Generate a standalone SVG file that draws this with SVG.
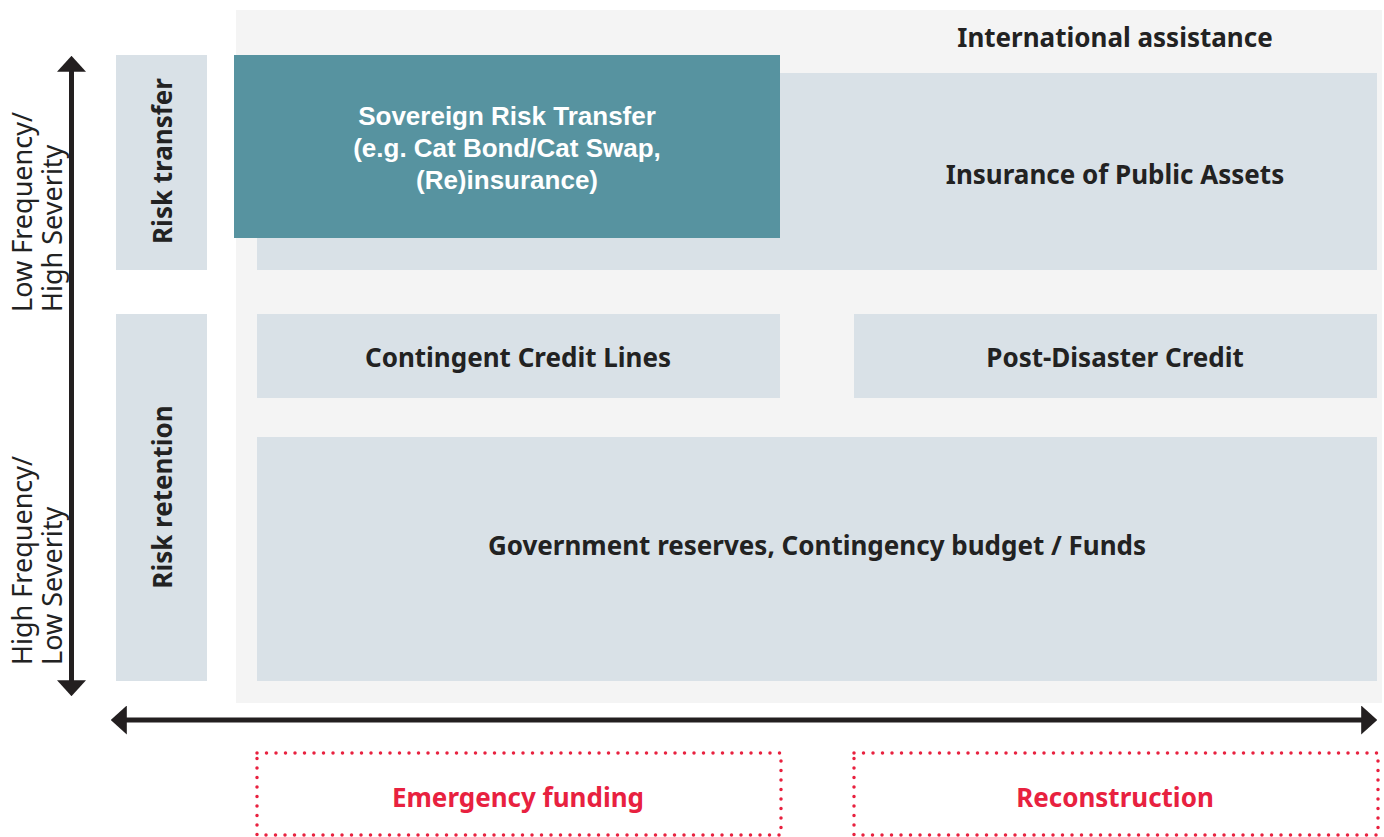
<svg xmlns="http://www.w3.org/2000/svg" width="1384" height="837" viewBox="0 0 1384 837">
<style>
.box{fill:#d9e1e7}
.t{font-family:"Noto Sans","Liberation Sans",sans-serif;font-weight:700;font-size:26px;fill:#222;text-anchor:middle;dominant-baseline:central}
.w{fill:#fff;font-family:"Liberation Sans",Arial,sans-serif;font-size:26px}
.r{fill:#e8213f}
.ax{font-family:"Noto Sans","Liberation Sans",sans-serif;font-weight:400;font-size:27px;fill:#222;text-anchor:start}
.dot{fill:none;stroke:#e8213f;stroke-width:3.5;stroke-dasharray:0 9.5;stroke-linecap:round}
.axis{stroke:#231f20;stroke-width:5}
</style>
<defs>
<marker id="ah" viewBox="0 0 10 10" refX="0.5" refY="5" markerWidth="3.2" markerHeight="5.8" orient="auto-start-reverse" markerUnits="strokeWidth" preserveAspectRatio="none">
<path d="M0,0 L10,5 L0,10 z" fill="#231f20"/>
</marker>
</defs>
<rect width="1384" height="837" fill="#fff"/>
<g id="bg">
<rect x="236" y="10" width="1146" height="693" fill="#f4f4f4"/>
<text class="t" x="1115" y="37">International assistance</text>
</g>
<g id="insurance">
<rect class="box" x="257" y="73" width="1120" height="197"/>
<text class="t" x="1115" y="174">Insurance of Public Assets</text>
</g>
<g id="sovereign">
<rect x="234" y="55" width="546" height="183" fill="#5793a0"/>
<text class="t w" x="507" y="116">Sovereign Risk Transfer</text>
<text class="t w" x="507" y="148">(e.g. Cat Bond/Cat Swap,</text>
<text class="t w" x="507" y="180">(Re)insurance)</text>
</g>
<g id="risk-transfer">
<rect class="box" x="116" y="55" width="91" height="215"/>
<text class="t" transform="translate(162,161) rotate(-90)">Risk transfer</text>
</g>
<g id="risk-retention">
<rect class="box" x="116" y="314" width="91" height="367"/>
<text class="t" transform="translate(162,497) rotate(-90)">Risk retention</text>
</g>
<g id="contingent">
<rect class="box" x="257" y="314" width="523" height="84"/>
<text class="t" x="518" y="357">Contingent Credit Lines</text>
</g>
<g id="post-disaster">
<rect class="box" x="854" y="314" width="523" height="84"/>
<text class="t" x="1115" y="357">Post-Disaster Credit</text>
</g>
<g id="reserves">
<rect class="box" x="257" y="437" width="1120" height="244"/>
<text class="t" x="817" y="545">Government reserves, Contingency budget / Funds</text>
</g>
<g id="axis-labels">
<text class="ax" transform="translate(32,312) rotate(-90)"><tspan x="0" y="0">Low Frequency/</tspan><tspan x="0" y="30">High Severity</tspan></text>
<text class="ax" transform="translate(32,665) rotate(-90)"><tspan x="0" y="0">High Frequency/</tspan><tspan x="0" y="30">Low Severity</tspan></text>
</g>
<g id="connectors">
<line class="axis" x1="71.5" y1="71" x2="71.5" y2="681" marker-start="url(#ah)" marker-end="url(#ah)"/>
<line class="axis" x1="126" y1="720" x2="1362" y2="720" marker-start="url(#ah)" marker-end="url(#ah)"/>
</g>
<g id="emergency">
<rect class="dot" x="257" y="753" width="524" height="82"/>
<text class="t r" x="518" y="797">Emergency funding</text>
</g>
<g id="reconstruction">
<rect class="dot" x="854" y="753" width="524" height="82"/>
<text class="t r" x="1115" y="797">Reconstruction</text>
</g>
</svg>
